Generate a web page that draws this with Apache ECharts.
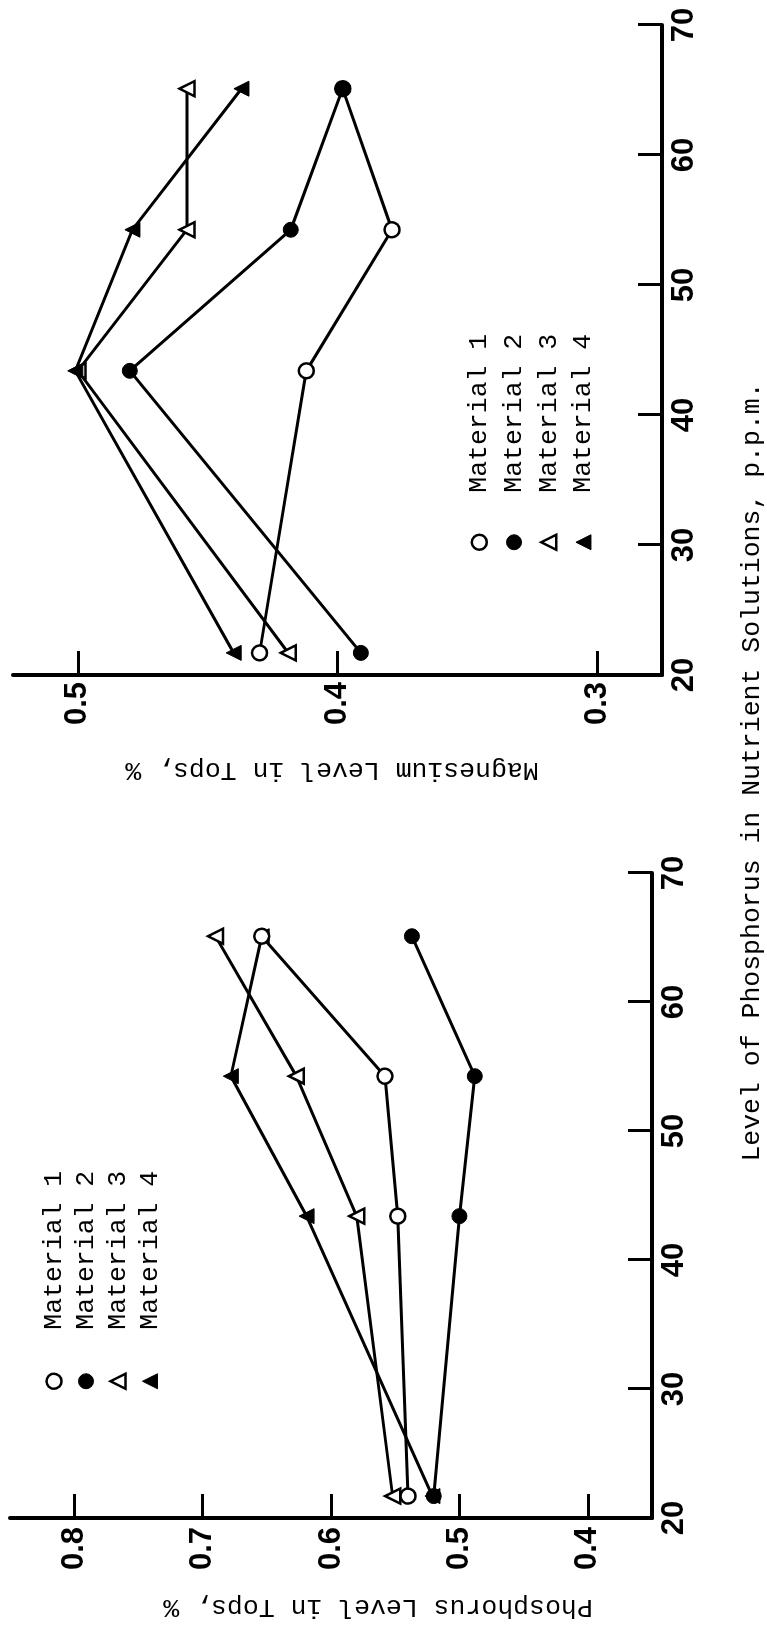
<!DOCTYPE html>
<html>
<head>
<meta charset="utf-8">
<script src="https://cdn.jsdelivr.net/npm/echarts@6/dist/echarts.min.js"></script>
<style>
html, body { margin: 0; padding: 0; background: #fff; overflow: hidden; width: 767px; height: 1626px; }
#wrap { position: absolute; left: 0; top: 0; width: 1626px; height: 767px;
        transform-origin: 0 0; transform: translate(0, 1626px) rotate(-90deg); }
#chart { width: 1626px; height: 767px; background: #fff; }
</style>
</head>
<body>
<div id="wrap"><div id="chart"></div></div>
<script>
// ---- data ----
const ppm = [21.7, 43.4, 54.25, 65.1];
const materials = ['Material 1', 'Material 2', 'Material 3', 'Material 4'];
const pMat1 = [0.540, 0.548, 0.558, 0.654];
const pMat2 = [0.520, 0.500, 0.488, 0.537];
const pMat3 = [0.552, 0.580, 0.627, 0.690];
const pMat4 = [0.521, 0.619, 0.678, 0.654];
const mgMat1 = [0.430, 0.412, 0.379, 0.398];
const mgMat2 = [0.391, 0.480, 0.418, 0.398];
const mgMat3 = [0.419, 0.500, 0.458, 0.458];
const mgMat4 = [0.440, 0.501, 0.479, 0.437];
const pTicks = [0.4, 0.5, 0.6, 0.7, 0.8];
const mgTicks = [0.3, 0.4, 0.5];
const xTitle = 'Level of Phosphorus in Nutrient Solutions, p.p.m.';
const pTitle = 'Phosphorus Level in Tops, %';
const mgTitle = 'Magnesium Level in Tops, %';

// ---- styles ----
const symbols = ['circle', 'circle', 'triangle', 'triangle'];
const openStyle = { color: '#fff', borderColor: '#000', borderWidth: 2.5 };
const fillStyle = { color: '#000', borderColor: '#000', borderWidth: 1 };
const itemStyles = [openStyle, fillStyle, openStyle, fillStyle];
const mono = '"Liberation Mono", "DejaVu Sans Mono", monospace';
const sans = '"Liberation Sans", Arial, sans-serif';

function pairs(vals) { return ppm.map((x, i) => [x, vals[i]]); }

function lineSeries(idx, vals, axisIdx) {
  return {
    type: 'line', name: materials[idx], data: pairs(vals),
    xAxisIndex: axisIdx, yAxisIndex: axisIdx,
    symbol: symbols[idx], symbolSize: 15,
    itemStyle: itemStyles[idx],
    lineStyle: { color: '#000', width: 3 },
    emphasis: { disabled: true }, silent: true
  };
}

function xAxisCfg(gridIndex) {
  return {
    type: 'value', gridIndex: gridIndex, min: 20, max: 70, interval: 10,
    axisLine: { show: true, onZero: false, lineStyle: { color: '#000', width: 4 } },
    axisTick: { show: true, inside: true, length: 24, lineStyle: { color: '#000', width: 3 } },
    axisLabel: { color: '#000', fontFamily: sans, fontWeight: 'bold', fontSize: 31, margin: 7 },
    splitLine: { show: false }
  };
}

function yAxisCfg(gridIndex, min, max, ticks, margin) {
  return {
    type: 'value', gridIndex: gridIndex, min: min, max: max,
    axisLine: { show: true, onZero: false, lineStyle: { color: '#000', width: 4 } },
    axisTick: { show: true, inside: true, length: 24, customValues: ticks,
                lineStyle: { color: '#000', width: 3 } },
    axisLabel: { color: '#000', fontFamily: sans, fontWeight: 'bold', fontSize: 31,
                 margin: margin, customValues: ticks,
                 formatter: v => v.toFixed(1) },
    splitLine: { show: false }
  };
}

function legendCfg(left, top, pitch, gap) {
  return {
    orient: 'vertical', left: left, top: top, itemWidth: 15, itemHeight: 15, itemGap: 0,
    selectedMode: false, padding: 0,
    textStyle: { fontFamily: mono, fontSize: 26.5, color: '#000', lineHeight: pitch,
                 padding: [0, 0, 0, gap] },
    data: materials.map((m, i) => ({ name: m, icon: symbols[i], itemStyle: itemStyles[i] }))
  };
}

const chart = echarts.init(document.getElementById('chart'), null, { renderer: 'canvas' });
chart.setOption({
  animation: false,
  backgroundColor: '#fff',
  grid: [
    { left: 108, right: 873, top: 10, bottom: 115 },
    { left: 951, right: 25, top: 13, bottom: 105 }
  ],
  xAxis: [xAxisCfg(0), xAxisCfg(1)],
  yAxis: [
    yAxisCfg(0, 0.35, 0.85, pTicks, 9),
    yAxisCfg(1, 0.275, 0.525, mgTicks, 7)
  ],
  legend: [
    legendCfg(236, 38, 32, 39),
    legendCfg(1075, 462, 34.7, 37)
  ],
  series: [
    lineSeries(1, pMat2, 0),
    lineSeries(2, pMat3, 0),
    lineSeries(3, pMat4, 0),
    lineSeries(0, pMat1, 0),
    lineSeries(0, mgMat1, 1),
    lineSeries(1, mgMat2, 1),
    lineSeries(2, mgMat3, 1),
    lineSeries(3, mgMat4, 1)
  ],
  graphic: [
    { type: 'text', x: 19, y: 378, rotation: Math.PI / 2, silent: true,
      style: { text: pTitle, fontFamily: mono, fontSize: 26.5, fill: '#000', align: 'center', verticalAlign: 'middle' } },
    { type: 'text', x: 856, y: 332, rotation: Math.PI / 2, silent: true,
      style: { text: mgTitle, fontFamily: mono, fontSize: 26.5, fill: '#000', align: 'center', verticalAlign: 'middle' } },
    { type: 'text', x: 854, y: 752, silent: true,
      style: { text: xTitle, fontFamily: mono, fontSize: 26.5, fill: '#000', align: 'center', verticalAlign: 'middle' } }
  ]
});
</script>
</body>
</html>
